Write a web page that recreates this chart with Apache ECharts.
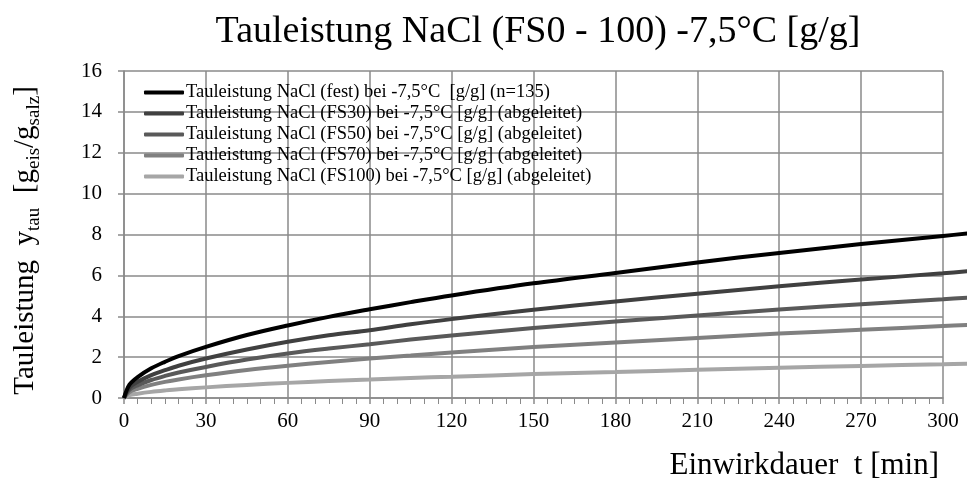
<!DOCTYPE html>
<html>
<head>
<meta charset="utf-8">
<script src="https://cdn.jsdelivr.net/npm/echarts@6/dist/echarts.min.js"></script>
<style>
  html, body { margin: 0; padding: 0; background: #fff; }
  #chart { width: 967px; height: 481px; }
</style>
</head>
<body>
<div id="chart"></div>
<script>
// Einwirkdauer t [min]
const times = [0, 2, 5, 10, 15, 20, 30, 45, 60, 75, 90, 105, 120, 150, 180, 210, 240, 270, 300, 310];

// Tauleistung [g/g] je Frostschutz-Anteil
const fest  = [0, 0.65, 1.02, 1.45, 1.77, 2.05, 2.50, 3.08, 3.55, 3.97, 4.34, 4.69, 5.02, 5.61, 6.12, 6.63, 7.10, 7.53, 7.93, 8.06];
const fs30  = [0, 0.50, 0.79, 1.12, 1.36, 1.58, 1.93, 2.37, 2.75, 3.07, 3.32, 3.61, 3.86, 4.32, 4.72, 5.10, 5.47, 5.80, 6.10, 6.21];
const fs50  = [0, 0.40, 0.62, 0.88, 1.08, 1.25, 1.52, 1.88, 2.18, 2.42, 2.63, 2.86, 3.06, 3.42, 3.74, 4.04, 4.33, 4.59, 4.83, 4.92];
const fs70  = [0, 0.29, 0.45, 0.64, 0.79, 0.91, 1.11, 1.37, 1.58, 1.76, 1.93, 2.08, 2.23, 2.49, 2.72, 2.94, 3.15, 3.34, 3.52, 3.58];
const fs100 = [0, 0.14, 0.21, 0.30, 0.37, 0.43, 0.52, 0.64, 0.74, 0.83, 0.90, 0.98, 1.04, 1.17, 1.27, 1.38, 1.48, 1.57, 1.65, 1.68];

const seriesNames = [
  'Tauleistung NaCl (fest) bei -7,5°C  [g/g] (n=135)',
  'Tauleistung NaCl (FS30) bei -7,5°C [g/g] (abgeleitet)',
  'Tauleistung NaCl (FS50) bei -7,5°C [g/g] (abgeleitet)',
  'Tauleistung NaCl (FS70) bei -7,5°C [g/g] (abgeleitet)',
  'Tauleistung NaCl (FS100) bei -7,5°C [g/g] (abgeleitet)'
];
const seriesValues = [fest, fs30, fs50, fs70, fs100];
const seriesColors = ['#000000', '#404040', '#595959', '#808080', '#a6a6a6'];

const FONT = '"Liberation Serif", "DejaVu Serif", serif';
const GRID_COLOR = '#8a8a8a';

// Plot frame: axes span 0..300 min; the curves run on past the frame
// to the right edge of the canvas, so they sit on a second, wider grid
// whose x range is stretched by the same pixels-per-minute.
const PLOT_LEFT = 124, PLOT_RIGHT = 24, PLOT_TOP = 71, PLOT_BOTTOM = 83, WIDTH = 967;
const X_MAX = 300;
const plotW = WIDTH - PLOT_LEFT - PLOT_RIGHT;
const X_MAX_WIDE = X_MAX * (WIDTH - PLOT_LEFT) / plotW;

const chart = echarts.init(document.getElementById('chart'), null, { renderer: 'canvas' });

chart.setOption({
  animation: false,
  backgroundColor: '#ffffff',
  title: {
    text: 'Tauleistung NaCl (FS0 - 100) -7,5°C [g/g]',
    left: 533,
    textAlign: 'center',
    top: 8,
    textStyle: { fontFamily: FONT, fontSize: 38, fontWeight: 'normal', color: '#000' }
  },
  legend: {
    orient: 'vertical',
    left: 139,
    top: 78,
    itemWidth: 40,
    itemHeight: 4,
    itemGap: 2,
    icon: 'roundRect',
    textStyle: { fontFamily: FONT, fontSize: 18.5, color: '#000', padding: [0, 0, 0, -3], lineHeight: 18 },
    data: seriesNames
  },
  grid: [
    { left: PLOT_LEFT, top: PLOT_TOP, right: PLOT_RIGHT, bottom: PLOT_BOTTOM, containLabel: false, outerBoundsMode: 'none' },
    { left: PLOT_LEFT, top: PLOT_TOP, right: 0, bottom: PLOT_BOTTOM, containLabel: false, outerBoundsMode: 'none' }
  ],
  xAxis: [{
    gridIndex: 0,
    type: 'value',
    min: 0,
    max: X_MAX,
    interval: 30,
    axisLine: { lineStyle: { color: GRID_COLOR, width: 1.5 } },
    axisTick: { show: true, length: 6, lineStyle: { color: GRID_COLOR, width: 1.5 } },
    minorTick: { show: true, splitNumber: 6, length: 6, lineStyle: { color: GRID_COLOR, width: 1 } },
    splitLine: { show: true, lineStyle: { color: GRID_COLOR, width: 1.5 } },
    axisLabel: { fontFamily: FONT, fontSize: 21, color: '#000', margin: 13 }
  }, {
    gridIndex: 1,
    type: 'value',
    min: 0,
    max: X_MAX_WIDE,
    show: false
  }],
  yAxis: [{
    gridIndex: 0,
    type: 'value',
    min: 0,
    max: 16,
    interval: 2,
    name: '{a|Tauleistung  y}{s|tau}{a|  [g}{s|eis}{a|/g}{s|salz}{a|]}',
    nameLocation: 'middle',
    nameRotate: 90,
    nameGap: 84,
    nameTextStyle: {
      padding: [0, 12, 0, 0],
      rich: {
        a: { fontFamily: FONT, fontSize: 29, color: '#000', verticalAlign: 'bottom', lineHeight: 32 },
        s: { fontFamily: FONT, fontSize: 19, color: '#000', verticalAlign: 'bottom', lineHeight: 32, padding: [0, 0, -4, 0] }
      }
    },
    axisLine: { show: true, lineStyle: { color: GRID_COLOR, width: 1.5 } },
    axisTick: { show: true, length: 6, lineStyle: { color: GRID_COLOR, width: 1.5 } },
    splitLine: { show: true, lineStyle: { color: GRID_COLOR, width: 1.5 } },
    axisLabel: { fontFamily: FONT, fontSize: 21, color: '#000', margin: 22 }
  }, {
    gridIndex: 1,
    type: 'value',
    min: 0,
    max: 16,
    show: false
  }],
  graphic: [{
    type: 'text',
    right: 28,
    top: 450,
    style: { text: 'Einwirkdauer  t [min]', font: '31px ' + FONT, fill: '#000' }
  }],
  series: seriesNames.map((name, i) => ({
    name: name,
    type: 'line',
    xAxisIndex: 1,
    yAxisIndex: 1,
    data: times.map((t, k) => [t, seriesValues[i][k]]),
    showSymbol: false,
    smooth: 0.35,
    clip: false,
    z: 10 - i,
    lineStyle: { color: seriesColors[i], width: 4 },
    itemStyle: { color: seriesColors[i] }
  }))
});
</script>
</body>
</html>
